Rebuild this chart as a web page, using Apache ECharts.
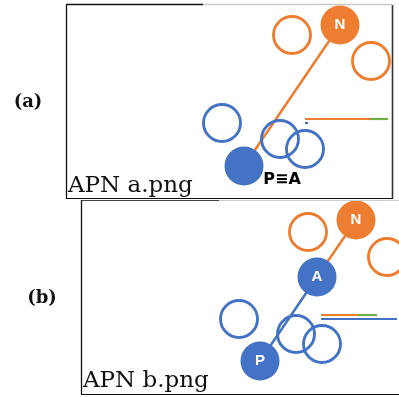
<!DOCTYPE html>
<html>
<head>
<meta charset="utf-8">
<script src="https://cdn.jsdelivr.net/npm/echarts@6/dist/echarts.min.js"></script>
<style>html,body{margin:0;padding:0;background:#fff;}#c{width:399px;height:397px;}</style>
</head>
<body>
<div id="c"></div>
<script>
// Panel (a) data (units inside the panel box, y upward)
const aHollowOrange = [[226, 163], [305, 137]];
const aHollowBlue = [[156, 75], [214, 59], [239, 49]];
const aFilledOrange = [[274, 173, 'N']];
const aFilledBlue = [[178, 32, '']];
const aLink = [[178, 32], [274, 173]];
const aNote = [[216, 18, 'P≡A']];
const aBarOrange = [[239, 79], [304, 79]];
const aBarGreen = [[304, 79], [322, 79]];
const aBarBlue = [[239, 75], [242, 75]];

// Panel (b) data
const bHollowOrange = [[227, 162], [306, 137]];
const bHollowBlue = [[158, 75], [215, 60], [241, 50]];
const bFilledOrange = [[275, 174, 'N']];
const bFilledBlue = [[236, 117, 'A'], [179, 33, 'P']];
const bLinkOrange = [[236, 117], [275, 174]];
const bLinkBlue = [[179, 33], [236, 117]];
const bBarOrange = [[240, 79], [277, 79]];
const bBarGreen = [[277, 79], [296, 79]];
const bBarBlue = [[240, 75], [316, 75]];

const panelLabels = ['(a)', '(b)'];
const panelTitles = ['APN a.png', 'APN b.png'];

const ORANGE = '#ED7D31', BLUE = '#4472C4', GREEN = '#70AD47';

const chart = echarts.init(document.getElementById('c'), null, {renderer: 'canvas'});

function hollow(data, color, gi) {
  return {type: 'scatter', xAxisIndex: gi, yAxisIndex: gi, data: data, symbolSize: 37,
    itemStyle: {color: 'rgba(255,255,255,0)', borderColor: color, borderWidth: 2.9, opacity: 1}, z: 3, silent: true};
}
function filled(data, color, gi) {
  return {type: 'scatter', xAxisIndex: gi, yAxisIndex: gi, data: data, symbolSize: 39,
    itemStyle: {color: color, opacity: 1}, z: 4, silent: true,
    label: {show: true, position: 'inside', formatter: p => p.data[2], color: '#fff',
      fontFamily: 'Liberation Sans', fontWeight: 'bold', fontSize: 15}};
}
function seg(data, color, gi, w, z) {
  return {type: 'line', xAxisIndex: gi, yAxisIndex: gi, data: data, symbol: 'none',
    lineStyle: {color: color, width: w, opacity: 1}, z: z, silent: true, animation: false};
}

const option = {
  animation: false,
  grid: [
    {left: 66, top: 4, width: 326, height: 194},
    {left: 81, top: 200, width: 318, height: 194}
  ],
  xAxis: [
    {gridIndex: 0, type: 'value', min: 0, max: 326, show: false},
    {gridIndex: 1, type: 'value', min: 0, max: 318, show: false}
  ],
  yAxis: [
    {gridIndex: 0, type: 'value', min: 0, max: 194, show: false},
    {gridIndex: 1, type: 'value', min: 0, max: 194, show: false}
  ],
  series: [
    seg(aLink, ORANGE, 0, 2.5, 2),
    seg(aBarOrange, ORANGE, 0, 2.2, 2),
    seg(aBarGreen, GREEN, 0, 2.2, 2),
    seg(aBarBlue, BLUE, 0, 2.2, 2),
    hollow(aHollowOrange, ORANGE, 0),
    hollow(aHollowBlue, BLUE, 0),
    filled(aFilledOrange, ORANGE, 0),
    filled(aFilledBlue, BLUE, 0),
    {type: 'scatter', xAxisIndex: 0, yAxisIndex: 0, data: aNote, symbolSize: 0, z: 5, silent: true,
      itemStyle: {opacity: 1},
      label: {show: true, position: 'inside', formatter: p => p.data[2], color: '#000',
        fontFamily: 'DejaVu Sans', fontWeight: 'bold', fontSize: 16}},
    seg(bLinkOrange, ORANGE, 1, 2.5, 2),
    seg(bLinkBlue, BLUE, 1, 2.5, 2),
    seg(bBarOrange, ORANGE, 1, 2.2, 2),
    seg(bBarGreen, GREEN, 1, 2.2, 2),
    seg(bBarBlue, BLUE, 1, 2.2, 2),
    hollow(bHollowOrange, ORANGE, 1),
    hollow(bHollowBlue, BLUE, 1),
    filled(bFilledOrange, ORANGE, 1),
    filled(bFilledBlue, BLUE, 1)
  ],
  graphic: [
    // panel (a) frame
    {type: 'line', shape: {x1: 66.5, y1: 4.5, x2: 203, y2: 4.5}, style: {stroke: '#111', lineWidth: 1.3}, z: 10},
    {type: 'line', shape: {x1: 203, y1: 4.5, x2: 392, y2: 4.5}, style: {stroke: '#c8c8c8', lineWidth: 1.3}, z: 10},
    {type: 'line', shape: {x1: 66.5, y1: 4, x2: 66.5, y2: 198.5}, style: {stroke: '#111', lineWidth: 1.3}, z: 10},
    {type: 'line', shape: {x1: 392.5, y1: 5, x2: 392.5, y2: 198.5}, style: {stroke: '#333', lineWidth: 1.6}, z: 10},
    {type: 'line', shape: {x1: 66, y1: 198.5, x2: 393, y2: 198.5}, style: {stroke: '#111', lineWidth: 1.2}, z: 10},
    // panel (b) frame
    {type: 'line', shape: {x1: 81.5, y1: 200.5, x2: 219, y2: 200.5}, style: {stroke: '#444', lineWidth: 1.2}, z: 10},
    {type: 'line', shape: {x1: 219, y1: 200.5, x2: 399, y2: 200.5}, style: {stroke: '#d0d0d0', lineWidth: 1}, z: 10},
    {type: 'line', shape: {x1: 81.5, y1: 200, x2: 81.5, y2: 394.5}, style: {stroke: '#111', lineWidth: 1.3}, z: 10},
    {type: 'line', shape: {x1: 81, y1: 394.5, x2: 399, y2: 394.5}, style: {stroke: '#111', lineWidth: 1.2}, z: 10},
    // texts
    {type: 'text', x: 28, y: 102, style: {text: panelLabels[0], fontFamily: 'DejaVu Serif', fontWeight: 'bold', fontSize: 18, fill: '#111', align: 'center', verticalAlign: 'middle'}, z: 10},
    {type: 'text', x: 42, y: 298, style: {text: panelLabels[1], fontFamily: 'DejaVu Serif', fontWeight: 'bold', fontSize: 18, fill: '#111', align: 'center', verticalAlign: 'middle'}, z: 10},
    {type: 'text', x: 68, y: 186, style: {text: panelTitles[0], fontFamily: 'DejaVu Serif', fontSize: 23, fill: '#111', align: 'left', verticalAlign: 'middle'}, z: 10},
    {type: 'text', x: 83, y: 381, style: {text: panelTitles[1], fontFamily: 'DejaVu Serif', fontSize: 23, fill: '#111', align: 'left', verticalAlign: 'middle'}, z: 10}
  ]
};
chart.setOption(option);
</script>
</body>
</html>
